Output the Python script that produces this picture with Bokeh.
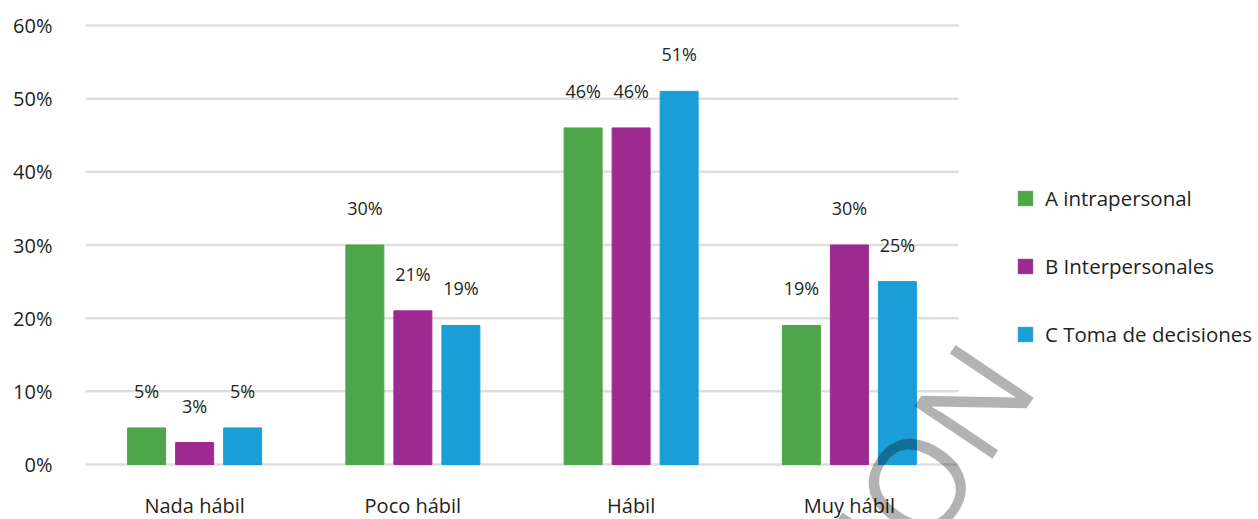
from bokeh.plotting import figure
from bokeh.models import ColumnDataSource, Legend, LegendItem, Label, Range1d
from bokeh.core.properties import value
from bokeh.embed import file_html
from bokeh.resources import INLINE

categories = ["Nada hábil", "Poco hábil", "Hábil", "Muy hábil"]
serie_a = [5, 30, 46, 19]   # A intrapersonal
serie_b = [3, 21, 46, 30]   # B Interpersonales
serie_c = [5, 19, 51, 25]   # C Toma de decisiones
series_names = ["A intrapersonal", "B Interpersonales", "C Toma de decisiones"]
colors = ["#4da64a", "#9c2a8f", "#1b9ed8"]
y_ticks = [0, 0.1, 0.2, 0.3, 0.4, 0.5, 0.6]
y_tick_labels = ["0%", "10%", "20%", "30%", "40%", "50%", "60%"]

FONT = "Open Sans"
TXT = "#231f20"

W, H = 1258, 519
# plot area: x 85..958 px (4 categories), y: 0 at 464 px, 0.6 at 25 px
px_per_cat = (958 - 85) / len(categories)
px_per_unit = (464 - 25) / 0.6
x_range = Range1d(-85 / px_per_cat, (W - 85) / px_per_cat)
y_range = Range1d(-(H - 464) / px_per_unit, 0.6 + 25 / px_per_unit)

p = figure(x_range=x_range, y_range=y_range, width=W, height=H,
           x_axis_type=None, y_axis_type=None,
           output_backend="svg", toolbar_location=None,
           min_border=0, min_border_left=0, min_border_right=0,
           min_border_top=0, min_border_bottom=0)
p.outline_line_color = None
p.background_fill_color = "white"
p.border_fill_color = "white"
p.grid.visible = False

cat_x = [i + 0.5 for i in range(len(categories))]

# horizontal gridlines
p.segment(x0=[0] * len(y_ticks), x1=[len(categories)] * len(y_ticks),
          y0=y_ticks, y1=y_ticks, line_color="#dedede", line_width=2.5)

# y tick labels
p.text(x=[0] * len(y_ticks), y=y_ticks, text=y_tick_labels, x_offset=-33,
       text_align="right", text_baseline="middle", text_font=value(FONT),
       text_font_size="20px", text_color=TXT)

# category labels
p.text(x=cat_x, y=[0] * len(categories), text=categories, y_offset=41,
       text_align="center", text_baseline="middle", text_font=value(FONT),
       text_font_size="20px", text_color=TXT)

offsets = [-0.22, 0.0, 0.22]
items = []
for vals, name, col, off in zip([serie_a, serie_b, serie_c], series_names, colors, offsets):
    src = ColumnDataSource(dict(x=[c + off for c in cat_x],
                                val=[v / 100 for v in vals],
                                lab=[f"{v}%" for v in vals]))
    r = p.vbar(x="x", top="val", bottom=0, width=0.174, source=src,
               fill_color=col, line_color=col, line_width=1)
    p.text(x="x", y="val", text="lab", source=src,
           y_offset=-37, text_align="center", text_baseline="middle",
           text_font=value(FONT), text_font_size="18px", text_color=TXT)
    items.append(LegendItem(label=name, renderers=[r]))

legend = Legend(items=items, location=(1016, 171), orientation="vertical",
                glyph_width=18, glyph_height=18, label_height=18,
                spacing=40, label_standoff=11, padding=0, margin=0,
                border_line_color=None, background_fill_alpha=0,
                label_text_font=FONT, label_text_font_size="20.5px",
                label_text_color=TXT)
p.add_layout(legend)

# watermark fragment
wm = Label(x=998, y=161, x_units="screen", y_units="screen", text="ION",
           angle=56, angle_units="deg", text_align="right",
           text_baseline="alphabetic", text_font=FONT, text_font_size="132px",
           text_color="black", text_alpha=0.3)
p.add_layout(wm)

open("out.html", "w").write(file_html(p, INLINE))
